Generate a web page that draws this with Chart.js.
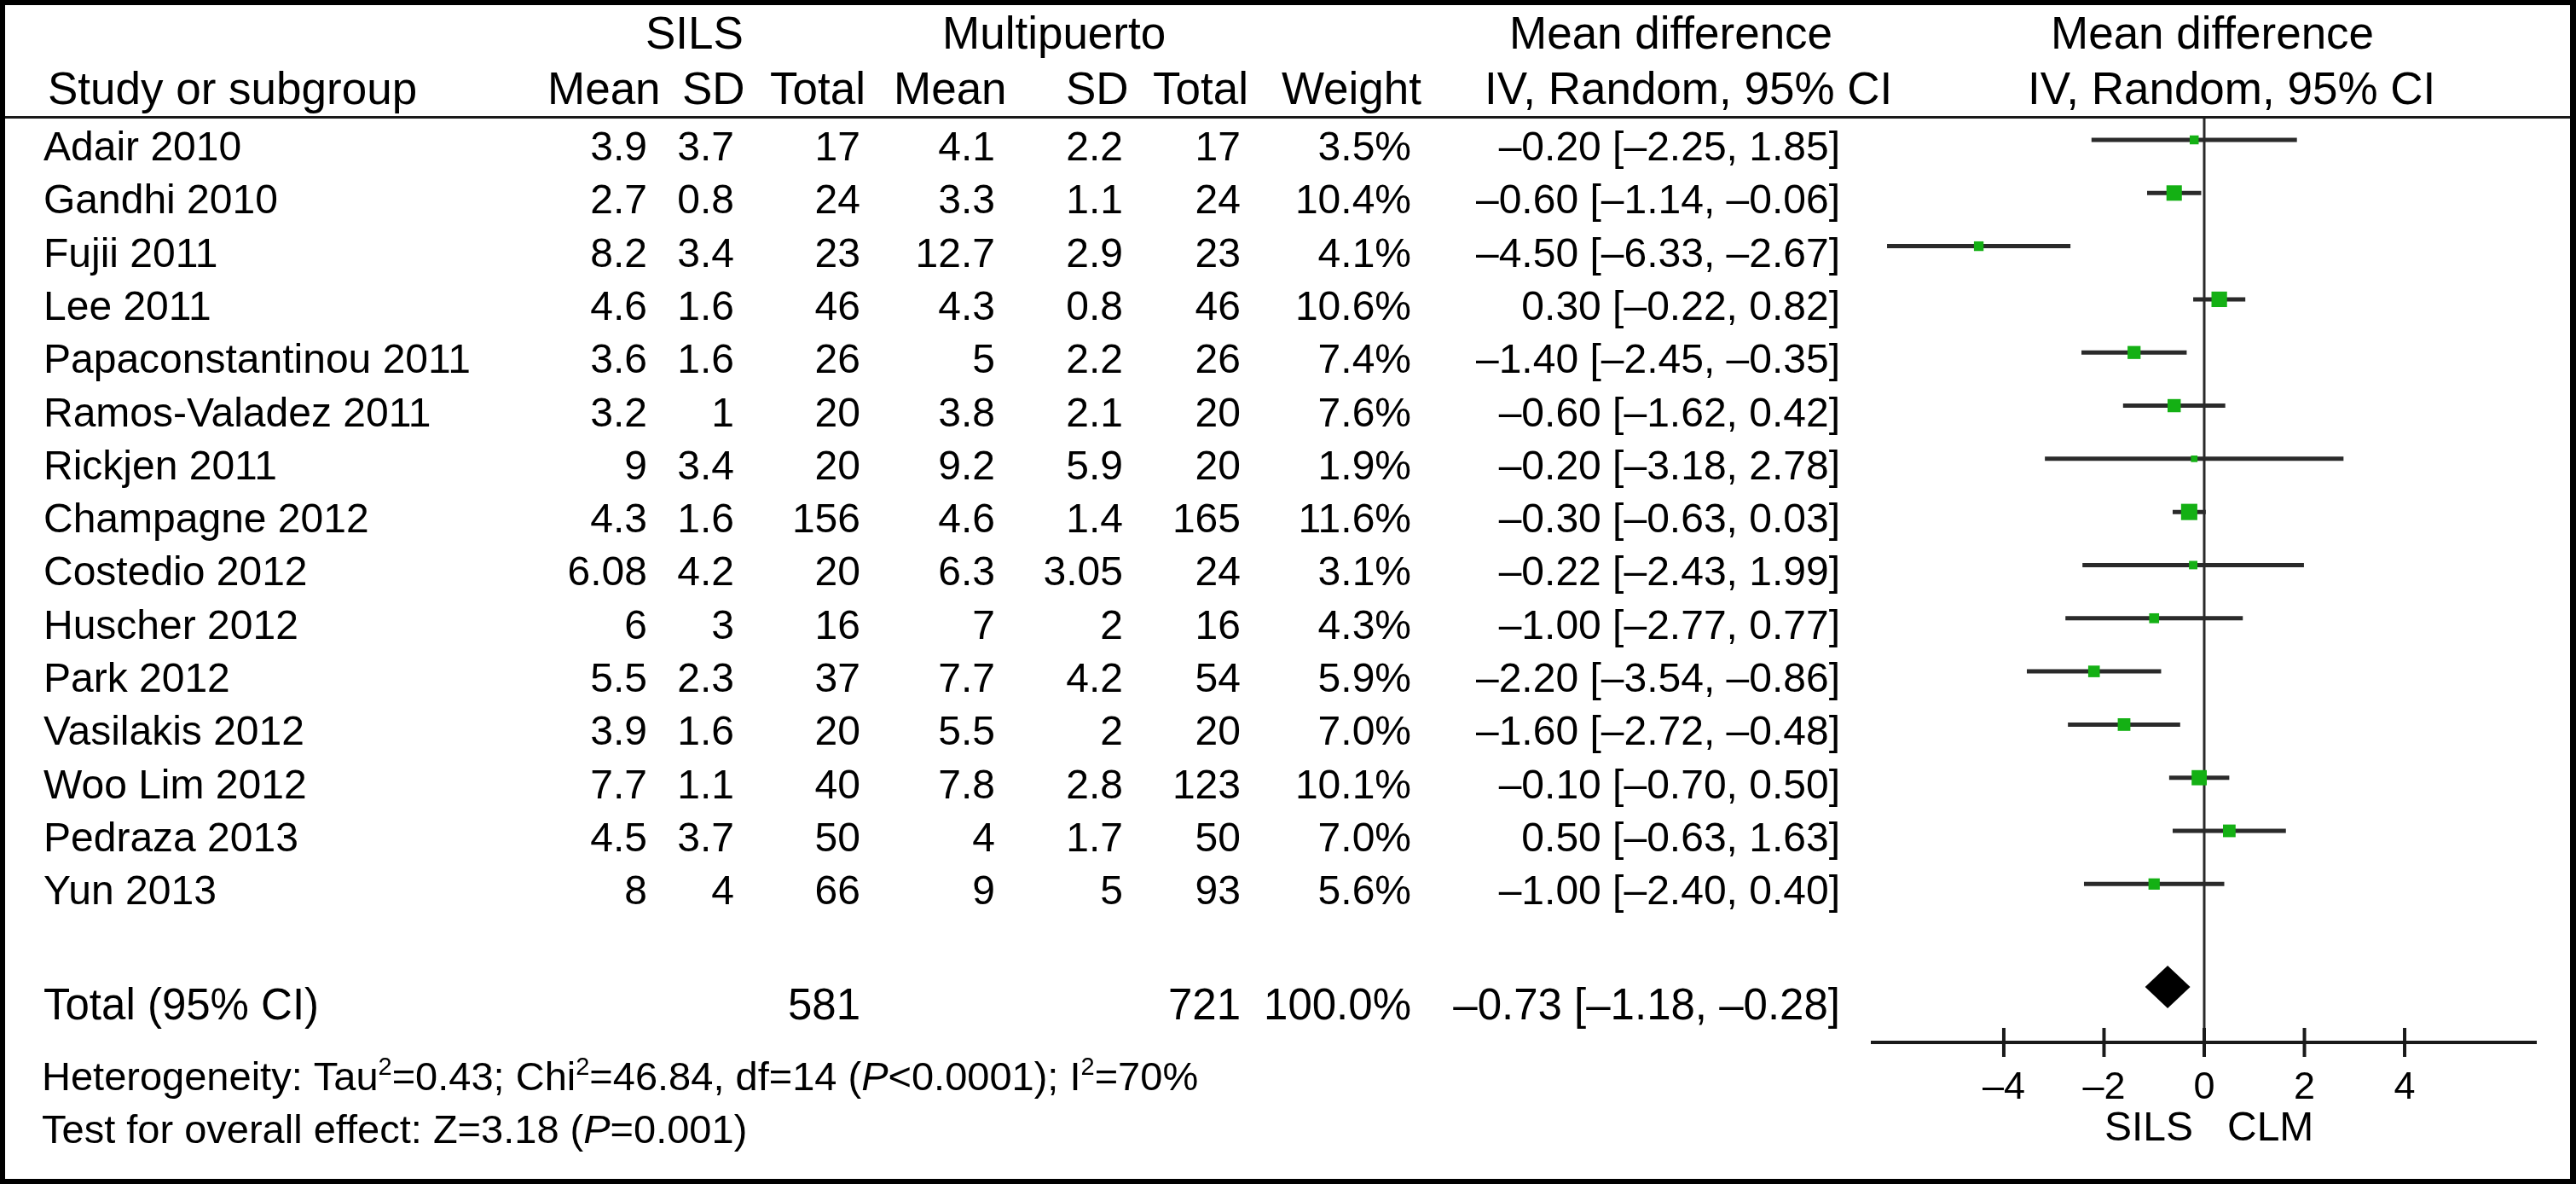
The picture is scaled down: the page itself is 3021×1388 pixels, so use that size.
<!DOCTYPE html>
<html>
<head>
<meta charset="utf-8">
<title>SILS vs Multipuerto - forest plot</title>
<script src="https://cdn.jsdelivr.net/npm/chart.js@4.4.1/dist/chart.umd.min.js"></script>
<style>
  html, body { margin: 0; padding: 0; background: #fff; overflow: hidden; }
  canvas { display: block; }
</style>
</head>
<body>
<canvas id="forest" width="3021" height="1388"></canvas>
<script>
// data
const studies = ['Adair 2010', 'Gandhi 2010', 'Fujii 2011', 'Lee 2011', 'Papaconstantinou 2011',
    'Ramos-Valadez 2011', 'Rickjen 2011', 'Champagne 2012', 'Costedio 2012', 'Huscher 2012',
    'Park 2012', 'Vasilakis 2012', 'Woo Lim 2012', 'Pedraza 2013', 'Yun 2013'];
const silsMean = [3.9, 2.7, 8.2, 4.6, 3.6, 3.2, 9, 4.3, 6.08, 6, 5.5, 3.9, 7.7, 4.5, 8];
const silsSD = [3.7, 0.8, 3.4, 1.6, 1.6, 1, 3.4, 1.6, 4.2, 3, 2.3, 1.6, 1.1, 3.7, 4];
const silsTotal = [17, 24, 23, 46, 26, 20, 20, 156, 20, 16, 37, 20, 40, 50, 66];
const multiMean = [4.1, 3.3, 12.7, 4.3, 5, 3.8, 9.2, 4.6, 6.3, 7, 7.7, 5.5, 7.8, 4, 9];
const multiSD = [2.2, 1.1, 2.9, 0.8, 2.2, 2.1, 5.9, 1.4, 3.05, 2, 4.2, 2, 2.8, 1.7, 5];
const multiTotal = [17, 24, 23, 46, 26, 20, 20, 165, 24, 16, 54, 20, 123, 50, 93];
const weights = [3.5, 10.4, 4.1, 10.6, 7.4, 7.6, 1.9, 11.6, 3.1, 4.3, 5.9, 7.0, 10.1, 7.0, 5.6];
const meanDiff = [-0.20, -0.60, -4.50, 0.30, -1.40, -0.60, -0.20, -0.30, -0.22, -1.00, -2.20, -1.60, -0.10, 0.50, -1.00];
const ciLow = [-2.25, -1.14, -6.33, -0.22, -2.45, -1.62, -3.18, -0.63, -2.43, -2.77, -3.54, -2.72, -0.70, -0.63, -2.40];
const ciHigh = [1.85, -0.06, -2.67, 0.82, -0.35, 0.42, 2.78, 0.03, 1.99, 0.77, -0.86, -0.48, 0.50, 1.63, 0.40];

const totalSils = 581;
const totalMulti = 721;
const totalWeight = 100.0;
const totalDiff = [-0.73, -1.18, -0.28]; // estimate, lower, upper

const xTicks = [-4, -2, 0, 2, 4];
const axisLabels = ['SILS', 'CLM'];
const heterogeneity = [
    { t: 'Heterogeneity: Tau' }, { t: '2', sup: true }, { t: '=0.43; Chi' }, { t: '2', sup: true },
    { t: '=46.84, df=14 (' }, { t: 'P', it: true }, { t: '<0.0001); I' }, { t: '2', sup: true }, { t: '=70%' }
];
const overallEffect = [{ t: 'Test for overall effect: Z=3.18 (' }, { t: 'P', it: true }, { t: '=0.001)' }];

// layout
const FONT = '"Liberation Sans", Arial, Helvetica, sans-serif';
const W = 3021, H = 1388;
const colRight = { silsMean: 759, silsSD: 861, silsTotal: 1009, multiMean: 1167, multiSD: 1317, multiTotal: 1455, weight: 1655, ci: 2158 };
const totalRow = 16;

function fmtDiff(v) {
    return (v < 0 ? '\u2013' : '') + Math.abs(v).toFixed(2);
}

function fmtCI(m, lo, hi) {
    return fmtDiff(m) + ' [' + fmtDiff(lo) + ', ' + fmtDiff(hi) + ']';
}

function drawRuns(ctx, x, y, runs, size) {
    runs.forEach(r => {
        if (r.sup) {
            ctx.font = Math.round(size * 0.62) + 'px ' + FONT;
            ctx.fillText(r.t, x, y - size * 0.38);
        } else {
            ctx.font = (r.it ? 'italic ' : '') + size + 'px ' + FONT;
            ctx.fillText(r.t, x, y);
        }
        x += ctx.measureText(r.t).width;
    });
}

const forestPlugin = {
    id: 'forestTable',
    beforeDatasetsDraw(chart) {
        const ctx = chart.ctx;
        const xs = chart.scales.x, ys = chart.scales.y, area = chart.chartArea;
        ctx.save();
        ctx.strokeStyle = '#2a2a2a';

        // line of no effect
        const x0 = xs.getPixelForValue(0);
        ctx.lineWidth = 3;
        ctx.beginPath();
        ctx.moveTo(x0, area.top);
        ctx.lineTo(x0, area.bottom);
        ctx.stroke();

        // confidence intervals
        ctx.lineWidth = 5;
        studies.forEach((s, i) => {
            const py = ys.getPixelForValue(i);
            ctx.beginPath();
            ctx.moveTo(xs.getPixelForValue(ciLow[i]), py);
            ctx.lineTo(xs.getPixelForValue(ciHigh[i]), py);
            ctx.stroke();
        });

        // tick marks crossing the axis
        ctx.strokeStyle = '#1a1a1a';
        ctx.lineWidth = 4;
        xTicks.forEach(v => {
            const px = xs.getPixelForValue(v);
            ctx.beginPath();
            ctx.moveTo(px, area.bottom - 17);
            ctx.lineTo(px, area.bottom + 17);
            ctx.stroke();
        });
        ctx.restore();
    },
    afterDatasetsDraw(chart) {
        const ctx = chart.ctx;
        const xs = chart.scales.x, ys = chart.scales.y;
        const py = ys.getPixelForValue(totalRow) - 4;
        ctx.save();
        ctx.fillStyle = '#000';
        ctx.beginPath();
        ctx.moveTo(xs.getPixelForValue(totalDiff[1]), py);
        ctx.lineTo(xs.getPixelForValue(totalDiff[0]), py - 25);
        ctx.lineTo(xs.getPixelForValue(totalDiff[2]), py);
        ctx.lineTo(xs.getPixelForValue(totalDiff[0]), py + 25);
        ctx.closePath();
        ctx.fill();
        ctx.restore();
    },
    afterDraw(chart) {
        const ctx = chart.ctx;
        const xs = chart.scales.x, ys = chart.scales.y;
        ctx.save();
        ctx.fillStyle = '#000';
        ctx.textBaseline = 'alphabetic';

        // frame and header rule
        ctx.fillRect(0, 0, W, 6);
        ctx.fillRect(0, 0, 6, H);
        ctx.fillRect(W - 7, 0, 7, H);
        ctx.fillRect(0, H - 6, W, 6);
        ctx.fillStyle = '#1a1a1a';
        ctx.fillRect(6, 136, W - 13, 3);
        ctx.fillStyle = '#000';

        // header
        ctx.font = '53px ' + FONT;
        ctx.textAlign = 'left';
        ctx.fillText('SILS', 757, 57);
        ctx.fillText('Multipuerto', 1105, 57);
        ctx.fillText('Mean difference', 1770, 57);
        ctx.fillText('Mean difference', 2405, 57);
        ctx.fillText('Study or subgroup', 56, 122);
        ctx.fillText('Mean', 642, 122);
        ctx.fillText('SD', 800, 122);
        ctx.fillText('Total', 903, 122);
        ctx.fillText('Mean', 1048, 122);
        ctx.fillText('SD', 1250, 122);
        ctx.fillText('Total', 1352, 122);
        ctx.fillText('Weight', 1503, 122);
        ctx.fillText('IV, Random, 95% CI', 1741, 122);
        ctx.fillText('IV, Random, 95% CI', 2378, 122);

        // study rows
        ctx.font = '48px ' + FONT;
        studies.forEach((s, i) => {
            const by = ys.getPixelForValue(i) + 24;
            ctx.textAlign = 'left';
            ctx.fillText(s, 51, by);
            ctx.textAlign = 'right';
            ctx.fillText(String(silsMean[i]), colRight.silsMean, by);
            ctx.fillText(String(silsSD[i]), colRight.silsSD, by);
            ctx.fillText(String(silsTotal[i]), colRight.silsTotal, by);
            ctx.fillText(String(multiMean[i]), colRight.multiMean, by);
            ctx.fillText(String(multiSD[i]), colRight.multiSD, by);
            ctx.fillText(String(multiTotal[i]), colRight.multiTotal, by);
            ctx.fillText(weights[i].toFixed(1) + '%', colRight.weight, by);
            ctx.fillText(fmtCI(meanDiff[i], ciLow[i], ciHigh[i]), colRight.ci, by);
        });

        // total row
        const ty = ys.getPixelForValue(totalRow) + 34;
        ctx.font = '51px ' + FONT;
        ctx.textAlign = 'left';
        ctx.fillText('Total (95% CI)', 51, ty);
        ctx.textAlign = 'right';
        ctx.fillText(String(totalSils), colRight.silsTotal, ty);
        ctx.fillText(String(totalMulti), colRight.multiTotal, ty);
        ctx.fillText(totalWeight.toFixed(1) + '%', colRight.weight, ty);
        ctx.fillText(fmtCI(totalDiff[0], totalDiff[1], totalDiff[2]), colRight.ci, ty);

        // footnotes
        ctx.textAlign = 'left';
        drawRuns(ctx, 49, 1278, heterogeneity, 47);
        drawRuns(ctx, 49, 1340, overallEffect, 47);

        // favours labels under the axis
        const x0 = xs.getPixelForValue(0);
        ctx.font = '48px ' + FONT;
        ctx.textAlign = 'right';
        ctx.fillText(axisLabels[0], x0 - 13, 1337);
        ctx.textAlign = 'left';
        ctx.fillText(axisLabels[1], x0 + 27, 1337);
        ctx.restore();
    }
};

new Chart(document.getElementById('forest'), {
    type: 'scatter',
    data: {
        datasets: [{
            data: meanDiff.map((v, i) => ({ x: v, y: i })),
            pointStyle: 'rect',
            pointRadius: weights.map(w => 5.6 * Math.sqrt(w) / Math.SQRT2),
            backgroundColor: '#14b014',
            borderWidth: 0
        }]
    },
    options: {
        responsive: false,
        devicePixelRatio: 1,
        animation: false,
        events: [],
        layout: { padding: { left: 2196, right: 47, top: 137, bottom: 0 } },
        plugins: { legend: { display: false }, tooltip: { enabled: false } },
        scales: {
            x: {
                type: 'linear',
                position: 'bottom',
                min: -6.62,
                max: 6.62,
                afterBuildTicks: s => { s.ticks = xTicks.map(v => ({ value: v })); },
                afterFit: s => { s.height = 166; },
                grid: { display: false },
                border: { display: true, color: '#1a1a1a', width: 4 },
                ticks: {
                    color: '#000',
                    padding: 19,
                    maxRotation: 0,
                    autoSkip: false,
                    font: { family: FONT, size: 45 },
                    callback: v => v < 0 ? '\u2013' + Math.abs(v) : String(v)
                }
            },
            y: {
                type: 'linear',
                display: false,
                reverse: true,
                min: -0.433,
                max: 16.98
            }
        }
    },
    plugins: [forestPlugin]
});
</script>
</body>
</html>
